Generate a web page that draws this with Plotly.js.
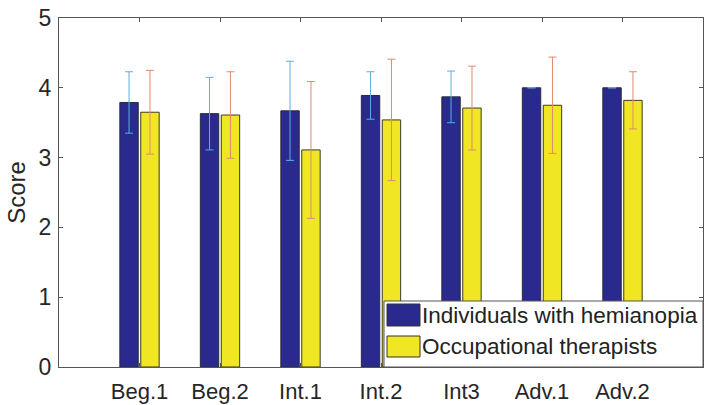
<!DOCTYPE html>
<html>
<head>
<meta charset="utf-8">
<script src="https://cdn.plot.ly/plotly-3.0.1.min.js"></script>
<style>html,body{margin:0;padding:0;background:#fff;}#chart{width:706px;height:405px;}</style>
</head>
<body>
<div id="chart"></div>
<script>
const categories = ["Beg.1", "Beg.2", "Int.1", "Int.2", "Int3", "Adv.1", "Adv.2"];
const hemianopiaMeans = [3.79, 3.63, 3.67, 3.89, 3.87, 4.0, 4.0];
const hemianopiaErr   = [0.44, 0.52, 0.71, 0.34, 0.37, 0, 0];
const therapistMeans  = [3.65, 3.61, 3.11, 3.54, 3.71, 3.75, 3.82];
const therapistErr    = [0.60, 0.62, 0.98, 0.87, 0.60, 0.69, 0.41];
const seriesNames = ["Individuals with hemianopia", "Occupational therapists"];
const yTicks = [0, 1, 2, 3, 4, 5];

const blue = "#2a2a8e", yellow = "#f0e623";
const font = "Liberation Sans, Arial, sans-serif";

const traces = [
  {type: "bar", x: categories, y: hemianopiaMeans, name: seriesNames[0],
   marker: {color: blue, line: {color: "#2a2a3a", width: 1}},
   error_y: {type: "data", array: hemianopiaErr, visible: true, color: "#5ab0de", thickness: 1, width: 4}},
  {type: "bar", x: categories, y: therapistMeans, name: seriesNames[1],
   marker: {color: yellow, line: {color: "#3a3a2a", width: 1}},
   error_y: {type: "data", array: therapistErr, visible: true, color: "#e08a6e", thickness: 1, width: 4}}
];

const W = 706, H = 405, mL = 59, mR = 3, mT = 18, mB = 38;
const pw = W - mL - mR, ph = H - mT - mB;
const px = v => (v - mL) / pw;
const py = v => (H - mB - v) / ph;

const shapes = [
  {type: "rect", xref: "paper", yref: "paper", x0: px(384), x1: px(703), y0: py(367), y1: py(301),
   line: {color: "#555", width: 1}, fillcolor: "#fff", layer: "above"},
  {type: "rect", xref: "paper", yref: "paper", x0: px(387), x1: px(420), y0: py(326), y1: py(304),
   line: {color: "#333", width: 1}, fillcolor: blue, layer: "above"},
  {type: "rect", xref: "paper", yref: "paper", x0: px(387), x1: px(420), y0: py(357), y1: py(336),
   line: {color: "#333", width: 1}, fillcolor: yellow, layer: "above"}
];
const annotations = [
  {xref: "paper", yref: "paper", x: px(420), y: py(315), xanchor: "left", yanchor: "middle",
   text: seriesNames[0], showarrow: false, font: {family: font, size: 22.5, color: "#222"}},
  {xref: "paper", yref: "paper", x: px(420), y: py(346), xanchor: "left", yanchor: "middle",
   text: seriesNames[1], showarrow: false, font: {family: font, size: 22.5, color: "#222"}}
];

const layout = {
  width: W, height: H,
  margin: {l: mL, r: mR, t: mT, b: mB, pad: 0},
  paper_bgcolor: "#fff", plot_bgcolor: "#fff",
  barmode: "group", bargap: 0.48, bargroupgap: 0.12,
  showlegend: false,
  font: {family: font, size: 22, color: "#262626"},
  xaxis: {type: "category", range: [-1, 7], showline: true, linecolor: "#555", linewidth: 1,
          mirror: "ticks", ticks: "inside", ticklen: 4, tickcolor: "#555", showgrid: false,
          tickfont: {size: 22, color: "#262626"}, zeroline: false, ticklabelstandoff: 5},
  yaxis: {range: [0, 5], tickvals: yTicks, ticktext: yTicks.map(String), showline: true, linecolor: "#555", linewidth: 1,
          mirror: "ticks", ticks: "inside", ticklen: 4, tickcolor: "#555", showgrid: false, zeroline: false,
          tickfont: {size: 23, color: "#262626"}, ticklabelstandoff: 2,
          title: {text: "Score", font: {size: 24, color: "#262626"}, standoff: 6}},
  shapes: shapes,
  annotations: annotations
};

Plotly.newPlot("chart", traces, layout, {staticPlot: true, displayModeBar: false});
</script>
</body>
</html>
